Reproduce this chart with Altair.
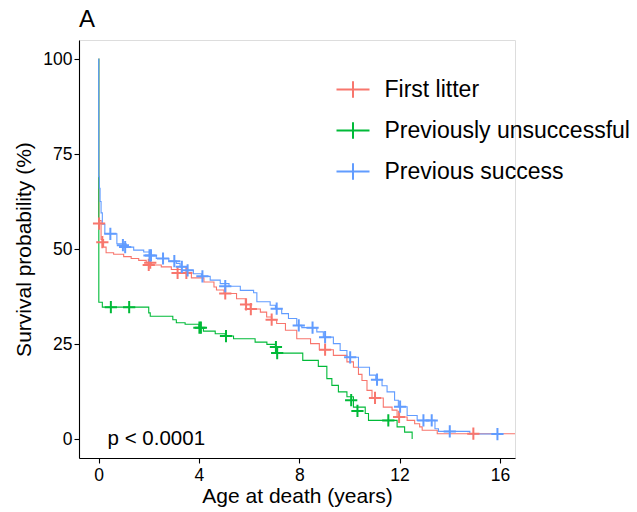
import altair as alt
import pandas as pd

FONT = "Liberation Sans"

groups = ["First litter", "Previously unsuccessful", "Previous success"]
colors = ["#F8766D", "#00BA38", "#619CFF"]

# ---- First litter (red) ----
fl_t = [0, 0.01, 0.1, 0.2, 0.3, 0.6, 1.0, 1.3, 1.6, 1.9, 2.1, 2.5, 2.9, 3.3, 3.7, 4.2,
        4.6, 4.7, 5.0, 5.5, 5.85, 6.05, 6.45, 6.7, 6.9, 7.1, 7.45, 7.9, 8.45, 8.8, 9.36,
        9.9, 10.16, 10.36, 10.5, 10.7, 10.9, 11.35, 11.7, 11.9, 12.3, 12.6, 12.8, 12.9,
        13.5, 16.6]
fl_s = [100, 57.5, 52.5, 50.5, 49.0, 48.6, 48.0, 47.5, 47.0, 46.4, 45.8, 45.3, 44.6, 43.7,
        42.4, 41.3, 40.0, 39.2, 38.3, 36.9, 35.4, 34.2, 33.4, 32.1, 31.4, 30.4, 28.6,
        26.4, 25.1, 23.5, 22.0, 20.3, 18.9, 17.0, 15.4, 12.8, 10.8, 8.4, 7.6, 5.8, 4.9,
        4.0, 3.2, 2.3, 1.4, 1.4]
fl_ct = [0.02, 0.15, 2.0, 2.06, 3.15, 3.5, 5.05, 5.88, 6.07, 6.9, 9.03, 11.02, 11.98, 14.94]
fl_cs = [56.7, 51.8, 45.8, 46.4, 43.7, 43.7, 38.3, 35.4, 34.2, 31.4, 23.5, 10.8, 5.8, 1.4]

# ---- Previously unsuccessful (green) ----
pu_t = [0, 0.01, 0.15, 2.0, 2.06, 2.96, 3.1, 3.45, 4.0, 4.18, 4.65, 5.05, 5.38, 6.24,
        6.71, 7.05, 7.1, 8.14, 8.76, 9.1, 9.3, 9.56, 9.9, 10.16, 10.63, 10.76, 11.9,
        12.2, 12.5]
pu_s = [100, 36.0, 34.7, 33.2, 32.3, 31.4, 30.6, 30.2, 29.3, 28.4, 27.7, 27.1, 26.4,
        25.5, 24.9, 24.2, 22.6, 20.7, 19.1, 15.9, 14.1, 12.4, 11.1, 8.4, 6.7, 4.9, 3.2,
        1.8, 0]
pu_ct = [0.49, 1.22, 4.02, 4.08, 5.08, 7.07, 7.12, 10.07, 10.32, 11.55]
pu_cs = [34.7, 34.7, 29.3, 29.3, 27.1, 24.2, 22.6, 10.2, 7.4, 4.9]

# ---- Previous success (blue) ----
ps_t = [0, 0.005, 0.03, 0.06, 0.1, 0.15, 0.25, 0.73, 1.1, 1.4, 1.8, 2.1, 2.3, 2.8, 3.1,
        3.25, 3.5, 3.78, 4.1, 4.45, 4.85, 5.2, 5.65, 6.18, 6.31, 6.84, 7.05, 7.3, 7.57,
        7.9, 8.1, 8.7, 8.96, 9.36, 9.63, 9.9, 10.36, 10.8, 11.05, 11.3, 11.5, 11.8,
        11.95, 12.3, 12.7, 13.41, 13.55, 14.8, 15.9]
ps_s = [100, 69, 66, 62.5, 59.5, 56.5, 54.0, 51.4, 50.5, 49.7, 49.2, 48.3, 47.5, 46.8,
        46.2, 45.3, 44.4, 43.5, 42.8, 41.8, 40.9, 40.2, 39.1, 38.5, 36.1, 35.2, 34.3,
        33.0, 31.7, 29.9, 29.3, 28.2, 26.8, 25.1, 23.3, 21.5, 18.9, 16.8, 15.6, 14.0,
        12.4, 10.2, 8.5, 6.2, 4.9, 2.7, 2.0, 1.3, 1.3]
ps_ct = [0.47, 0.97, 1.06, 2.03, 2.09, 2.57, 3.02, 3.32, 3.55, 4.14, 5.05, 7.1, 7.98,
         8.53, 9.03, 10.03, 11.1, 12.02, 12.95, 13.28, 14.0, 15.9]
ps_cs = [54.0, 51.0, 50.5, 48.3, 48.3, 47.5, 46.8, 45.3, 44.4, 42.8, 40.2, 34.3, 29.9,
         29.3, 26.8, 21.5, 15.6, 8.5, 4.9, 4.9, 2.0, 1.3]

pval_text = ["p < 0.0001"]
pval_x = [0.36]
pval_y = [0]

x_ticks = [0, 4, 8, 12, 16]
y_ticks = [0, 25, 50, 75, 100]

curves = [(groups[0], fl_t, fl_s, fl_ct, fl_cs),
          (groups[1], pu_t, pu_s, pu_ct, pu_cs),
          (groups[2], ps_t, ps_s, ps_ct, ps_cs)]

line_rows, cens_rows = [], []
for g, t, s, ct, cs in curves:
    for i, (a, b) in enumerate(zip(t, s)):
        line_rows.append({"group": g, "t": a, "s": b, "o": i})
    for a, b in zip(ct, cs):
        cens_rows.append({"group": g, "t": a, "s": b})
lines_df = pd.DataFrame(line_rows)
cens_df = pd.DataFrame(cens_rows)
pval_df = pd.DataFrame({"label": pval_text, "t": pval_x, "s": pval_y})

xscale = alt.Scale(domain=[-0.78, 16.6], nice=False, zero=False)
yscale = alt.Scale(domain=[-5, 105], nice=False, zero=False)
cscale = alt.Scale(domain=groups, range=colors)

xaxis = alt.Axis(values=x_ticks, title="Age at death (years)", grid=False,
                 domainColor="black", domainWidth=1.1, tickColor="black", tickSize=5,
                 tickWidth=1.1, labelColor="black", labelFont=FONT, labelFontSize=17.5,
                 labelPadding=3, titleFont=FONT, titleFontSize=21, titleFontWeight="normal",
                 titleColor="black", titleY=44, titleBaseline="alphabetic")
yaxis = alt.Axis(values=y_ticks, title="Survival probability (%)", grid=False,
                 domainColor="black", domainWidth=1.1, tickColor="black", tickSize=5,
                 tickWidth=1.1, labelColor="black", labelFont=FONT, labelFontSize=17.5,
                 labelPadding=2, titleFont=FONT, titleFontSize=21, titleFontWeight="normal",
                 titleColor="black", titleX=-49, titleY=209, titleAngle=-90,
                 titleAlign="center", titleBaseline="alphabetic")

legend = alt.Legend(title=None, orient="none", legendX=256.5, legendY=32,
                    symbolType="M-1,0H1M0,-0.5V0.5", symbolSize=1089,
                    symbolStrokeWidth=2, symbolFillColor="transparent",
                    labelFont=FONT, labelFontSize=23, labelColor="black",
                    labelOffset=14, rowPadding=11, padding=0, labelLimit=400)

lines = alt.Chart(lines_df).mark_line(interpolate="step-after", strokeWidth=1.1).encode(
    x=alt.X("t:Q", scale=xscale, axis=xaxis),
    y=alt.Y("s:Q", scale=yscale, axis=yaxis),
    color=alt.Color("group:N", scale=cscale, legend=legend),
    order="o:Q",
)

cens = alt.Chart(cens_df).mark_point(shape="M-1,0H1M0,-1V1", size=150, strokeWidth=2,
                                     filled=False, opacity=1).encode(
    x=alt.X("t:Q", scale=xscale),
    y=alt.Y("s:Q", scale=yscale),
    color=alt.Color("group:N", scale=cscale, legend=None),
)

ptext = alt.Chart(pval_df).mark_text(align="left", baseline="middle", font=FONT,
                                     fontSize=20.5, color="black").encode(
    x=alt.X("t:Q", scale=xscale),
    y=alt.Y("s:Q", scale=yscale),
    text="label:N",
)

chart = alt.layer(lines, cens, ptext).properties(
    width=436, height=418,
    title=alt.Title("A", anchor="start", frame="group", font=FONT, fontSize=24,
                    fontWeight="normal", color="black", offset=8),
    autosize=alt.AutoSizeParams(type="none"),
    padding={"left": 79, "top": 40, "right": 122, "bottom": 54},
).configure_view(stroke=None).configure(background="white")

chart.save("out.html", embed_options={"renderer": "svg", "actions": False})
